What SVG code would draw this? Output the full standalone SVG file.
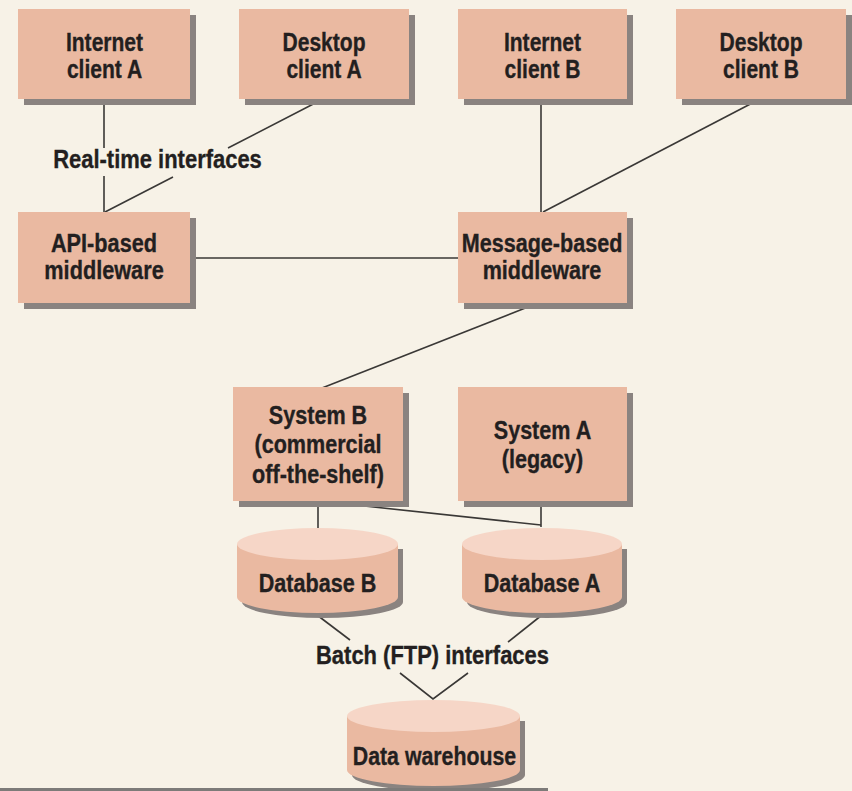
<svg xmlns="http://www.w3.org/2000/svg" width="852" height="791" viewBox="0 0 852 791">
  <style>
    .bg { fill: #f7f2e7; }
    .box { fill: #eab9a1; }
    .top { fill: #f6d6c7; }
    .shadow { fill: #8a8380; }
    .edge { stroke: #3a3836; stroke-width: 1.6; fill: none; stroke-linecap: butt; }
    text { font-family: "Liberation Sans", Arial, sans-serif; font-weight: bold; font-size: 26px; fill: #231f20; stroke: #231f20; stroke-width: 0.35; text-anchor: middle; }
  </style>
  <rect class="bg" x="0" y="0" width="852" height="791"/>

  <!-- connectors -->
  <g id="connectors">
    <path class="edge" d="M104 99 V148 M104 176 V212"/>
    <path class="edge" d="M323 99 L228 148 M173 177 L105 212"/>
    <path class="edge" d="M190 258 H458"/>
    <path class="edge" d="M541 99 V212"/>
    <path class="edge" d="M760 99 L543 212"/>
    <path class="edge" d="M538 303 L322 388"/>
    <path class="edge" d="M318 501 V528"/>
    <path class="edge" d="M541 501 V527"/>
    <path class="edge" d="M318 501 L541 525"/>
    <path class="edge" d="M317 615 L350 640"/>
    <path class="edge" d="M542 615 L508 642"/>
    <path class="edge" d="M400 673 L433 699 L468 673"/>
    <g transform="translate(157.5 168) scale(0.845 1)"><text x="0" y="0">Real-time interfaces</text></g>
    <g transform="translate(432.5 664) scale(0.845 1)"><text x="0" y="0">Batch (FTP) interfaces</text></g>
  </g>

  <!-- clients -->
  <g id="internet-client-a">
    <rect class="shadow" x="24" y="15" width="172" height="90"/>
    <rect class="box" x="18" y="9" width="172" height="90"/>
    <g transform="translate(104.5 0) scale(0.81 1)"><text x="0" y="51">Internet</text><text x="0" y="78">client A</text></g>
  </g>
  <g id="desktop-client-a">
    <rect class="shadow" x="245" y="15" width="170" height="90"/>
    <rect class="box" x="239" y="9" width="170" height="90"/>
    <g transform="translate(324 0) scale(0.81 1)"><text x="0" y="51">Desktop</text><text x="0" y="78">client A</text></g>
  </g>
  <g id="internet-client-b">
    <rect class="shadow" x="464" y="15" width="169" height="90"/>
    <rect class="box" x="458" y="9" width="169" height="90"/>
    <g transform="translate(542.5 0) scale(0.81 1)"><text x="0" y="51">Internet</text><text x="0" y="78">client B</text></g>
  </g>
  <g id="desktop-client-b">
    <rect class="shadow" x="682" y="15" width="170" height="90"/>
    <rect class="box" x="676" y="9" width="170" height="90"/>
    <g transform="translate(761 0) scale(0.81 1)"><text x="0" y="51">Desktop</text><text x="0" y="78">client B</text></g>
  </g>

  <!-- middleware -->
  <g id="api-middleware">
    <rect class="shadow" x="24" y="218" width="172" height="91"/>
    <rect class="box" x="18" y="212" width="172" height="91"/>
    <g transform="translate(104 0) scale(0.835 1)"><text x="0" y="252">API-based</text><text x="0" y="279">middleware</text></g>
  </g>
  <g id="message-middleware">
    <rect class="shadow" x="464" y="218" width="169" height="91"/>
    <rect class="box" x="458" y="212" width="169" height="91"/>
    <g transform="translate(542 0) scale(0.83 1)"><text x="0" y="252">Message-based</text><text x="0" y="279">middleware</text></g>
  </g>

  <!-- systems -->
  <g id="system-b">
    <rect class="shadow" x="239" y="393" width="170" height="114"/>
    <rect class="box" x="233" y="387" width="170" height="114"/>
    <g transform="translate(318 0) scale(0.83 1)"><text x="0" y="424">System B</text><text x="0" y="453">(commercial</text><text x="0" y="483">off-the-shelf)</text></g>
  </g>
  <g id="system-a">
    <rect class="shadow" x="464" y="393" width="169" height="114"/>
    <rect class="box" x="458" y="387" width="169" height="114"/>
    <g transform="translate(542.5 0) scale(0.83 1)"><text x="0" y="439">System A</text><text x="0" y="468">(legacy)</text></g>
  </g>

  <!-- databases -->
  <g id="database-b">
    <path class="shadow" d="M242 549 V602 A80.5 16 0 0 0 403 602 V549 Z"/>
    <path class="box" d="M237 544 V597 A80.5 16 0 0 0 398 597 V544 Z"/>
    <ellipse class="top" cx="317.5" cy="544" rx="80.5" ry="16"/>
    <g transform="translate(317.5 0) scale(0.83 1)"><text x="0" y="592">Database B</text></g>
  </g>
  <g id="database-a">
    <path class="shadow" d="M467 549 V602 A80 16 0 0 0 627 602 V549 Z"/>
    <path class="box" d="M462 544 V597 A80 16 0 0 0 622 597 V544 Z"/>
    <ellipse class="top" cx="542" cy="544" rx="80" ry="16"/>
    <g transform="translate(542 0) scale(0.83 1)"><text x="0" y="592">Database A</text></g>
  </g>
  <g id="data-warehouse">
    <path class="shadow" d="M352 721 V775 A86.5 16 0 0 0 525 775 V721 Z"/>
    <path class="box" d="M347 716 V770 A86.5 16 0 0 0 520 770 V716 Z"/>
    <ellipse class="top" cx="433.5" cy="716" rx="86.5" ry="16"/>
    <g transform="translate(434.5 0) scale(0.82 1)"><text x="0" y="765">Data warehouse</text></g>
  </g>

  <!-- rule along the lower edge -->
  <rect x="0" y="788" width="548" height="3" fill="#7d7b79"/>
</svg>
